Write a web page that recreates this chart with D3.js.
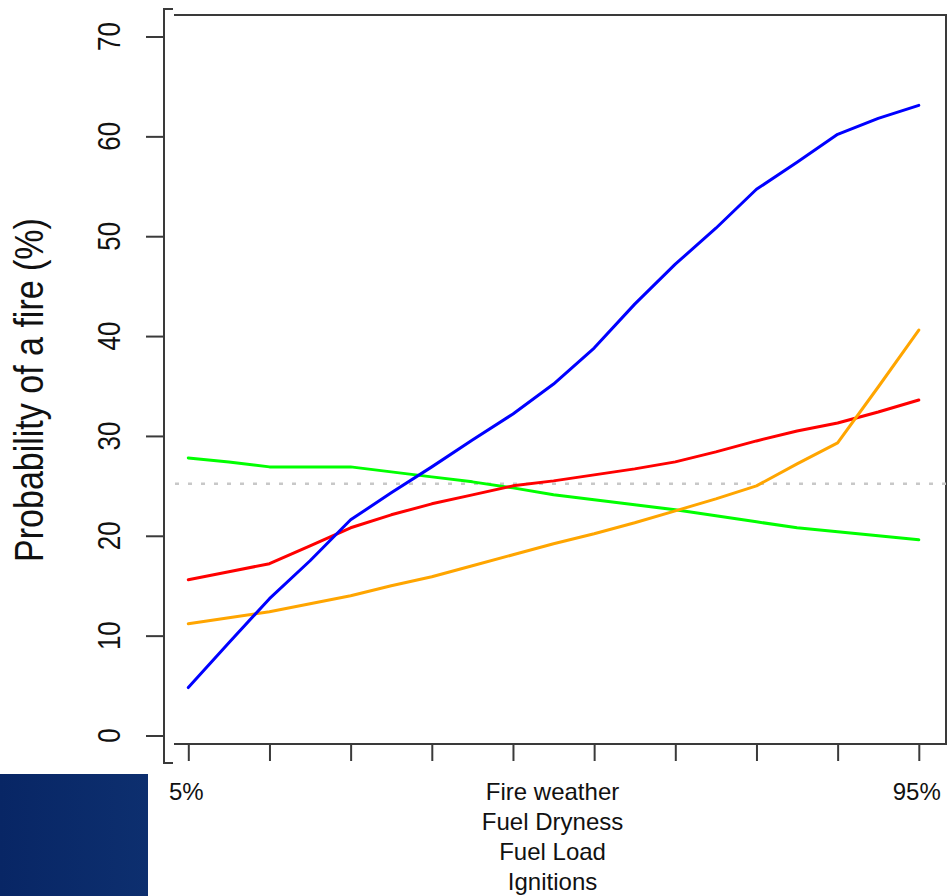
<!DOCTYPE html>
<html>
<head>
<meta charset="utf-8">
<script src="https://cdn.jsdelivr.net/npm/d3@7"></script>
<style>
html,body{margin:0;padding:0;background:#fff;}
svg{display:block;}
text{font-family:"Liberation Sans",Arial,sans-serif;fill:#111;}
</style>
</head>
<body>
<svg id="chart" width="947" height="896"></svg>
<script>
// ---- data ----
const percentiles = [5,10,15,20,25,30,35,40,45,50,55,60,65,70,75,80,85,90,95];
const fireWeather = [4.8,9.3,13.7,17.5,21.6,24.3,26.9,29.6,32.2,35.2,38.8,43.2,47.2,50.8,54.7,57.4,60.2,61.8,63.1];
const fuelDryness = [15.6,16.4,17.2,19.0,20.8,22.1,23.2,24.1,25.0,25.5,26.1,26.7,27.4,28.4,29.5,30.5,31.3,32.4,33.6];
const fuelLoad    = [27.8,27.4,26.9,26.9,26.9,26.4,25.9,25.4,24.8,24.1,23.6,23.1,22.6,22.0,21.4,20.8,20.4,20.0,19.6];
const ignitions   = [11.2,11.8,12.4,13.2,14.0,15.0,15.9,17.0,18.1,19.2,20.2,21.3,22.5,23.7,25.0,27.2,29.3,34.9,40.6];
const baseline = 25.2;
const yTicks = [0,10,20,30,40,50,60,70];
const xTicks = [5,15,25,35,45,55,65,75,85,95];
const xEndLabels = {5:"5%",95:"95%"};
const xTitleLines = ["Fire weather","Fuel Dryness","Fuel Load","Ignitions"];
const yTitle = "Probability of a fire (%)";
const seriesNames = ["Fuel Load","Fuel Dryness","Ignitions","Fire weather"];
const seriesValues = [fuelLoad,fuelDryness,ignitions,fireWeather];
const seriesColors = ["#00ff00","#ff0000","#ffa500","#0000ff"];

const svg = d3.select("#chart");
const x = d3.scaleLinear().domain([5,95]).range([188.3,918.8]);
const y = d3.scaleLinear().domain([0,70]).range([735.5,36.5]);

// dark block bottom-left
const defs = svg.append("defs");
const g1 = defs.append("linearGradient").attr("id","blk").attr("x1","0").attr("y1","0").attr("x2","1").attr("y2","0");
g1.append("stop").attr("offset","0").attr("stop-color","#082665");
g1.append("stop").attr("offset","1").attr("stop-color","#0d2f6f");
svg.append("rect").attr("x",0).attr("y",774).attr("width",148).attr("height",122).attr("fill","url(#blk)");

const axisColor = "#3a3a3a";
// frame (box top/right/bottom)
svg.append("path")
  .attr("d","M174,15H946V744H174")
  .attr("fill","none").attr("stroke",axisColor).attr("stroke-width",2);
// left axis line with hooks
svg.append("path")
  .attr("d","M173,9H164V763H173")
  .attr("fill","none").attr("stroke",axisColor).attr("stroke-width",2);

// y axis ticks
const yAxis = d3.axisLeft(y).tickValues(yTicks).tickSize(18).tickFormat("");
const gy = svg.append("g").attr("transform","translate(164,0)").call(yAxis);
gy.select(".domain").remove();
gy.selectAll(".tick line").attr("stroke",axisColor).attr("stroke-width",2);

// y tick labels (rotated)
svg.append("g").selectAll("text").data(yTicks).join("text")
  .attr("transform",d=>`translate(120,${y(d)}) scale(1.22,1) rotate(-90)`)
  .attr("text-anchor","middle")
  .attr("font-size",26)
  .text(d=>d);

// y title
svg.append("text")
  .attr("transform","translate(42.5,390) scale(1.2,1) rotate(-90)")
  .attr("text-anchor","middle")
  .attr("font-size",34)
  .text(yTitle);

// x axis ticks
const xAxis = d3.axisBottom(x).tickValues(xTicks).tickSize(17).tickFormat("");
const gx = svg.append("g").attr("transform","translate(0,744)").call(xAxis);
gx.select(".domain").remove();
gx.selectAll(".tick line").attr("stroke",axisColor).attr("stroke-width",2);

// x end labels
svg.append("g").selectAll("text").data([5,95]).join("text")
  .attr("x",d=>x(d)-2).attr("y",800)
  .attr("text-anchor","middle").attr("font-size",24)
  .text(d=>xEndLabels[d]);

// x title lines
svg.append("g").selectAll("text").data(xTitleLines).join("text")
  .attr("x",(x(5)+x(95))/2-1).attr("y",(d,i)=>800+i*30)
  .attr("text-anchor","middle").attr("font-size",24)
  .text(d=>d);

// baseline dotted line
svg.append("line")
  .attr("x1",175).attr("x2",946).attr("y1",y(baseline)).attr("y2",y(baseline))
  .attr("stroke","#c8c8c8").attr("stroke-width",2.5).attr("stroke-dasharray","4 9");

// series lines
const line = d3.line().x((d,i)=>x(percentiles[i])).y(d=>y(d));
svg.append("g").selectAll("path").data(seriesValues).join("path")
  .attr("d",d=>line(d))
  .attr("fill","none")
  .attr("stroke",(d,i)=>seriesColors[i])
  .attr("stroke-width",3)
  .attr("stroke-linejoin","round")
  .attr("stroke-linecap","round");
</script>
</body>
</html>
